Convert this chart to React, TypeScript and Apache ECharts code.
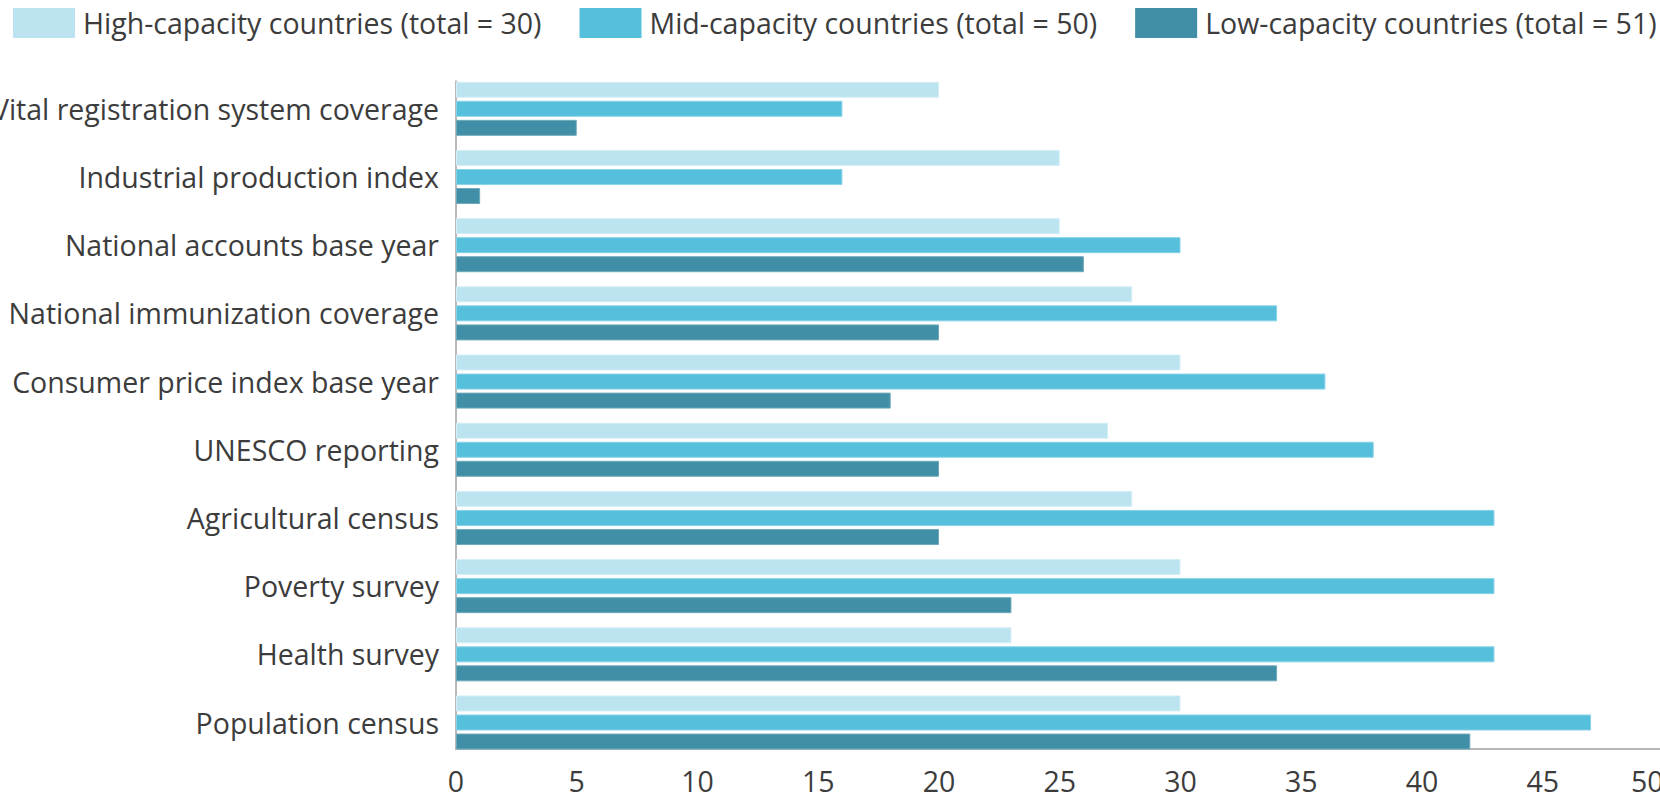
import React, { useEffect, useRef } from "react";
import * as echarts from "echarts";

const categories = [
  "Vital registration system coverage",
  "Industrial production index",
  "National accounts base year",
  "National immunization coverage",
  "Consumer price index base year",
  "UNESCO reporting",
  "Agricultural census",
  "Poverty survey",
  "Health survey",
  "Population census",
];
const seriesNames = [
  "High-capacity countries (total = 30)",
  "Mid-capacity countries (total = 50)",
  "Low-capacity countries (total = 51)",
];
const highValues = [20, 25, 25, 28, 30, 27, 28, 30, 23, 30];
const midValues = [16, 16, 30, 34, 36, 38, 43, 43, 43, 47];
const lowValues = [5, 1, 26, 20, 18, 20, 20, 23, 34, 42];
const colors = ["#BCE4F0", "#55BFDC", "#408FA6"];
const borders = ["#D4EEF6", "#86D2E7", "#6FAABB"];

const FONT = "'Open Sans', 'Noto Sans', sans-serif";
const TEXT = "#3c3c3c";
const AXIS = "#a0a0a0";
const FS = 28.5;

export default function App() {
  const ref = useRef<HTMLDivElement>(null);
  useEffect(() => {
    if (!ref.current) return;
    const chart = echarts.init(ref.current, undefined, { renderer: "svg" });
    const data = [highValues, midValues, lowValues];
    chart.setOption({
      animation: false,
      textStyle: { fontFamily: FONT, color: TEXT },
      legend: {
        left: 13,
        top: 8,
        padding: 0,
        itemWidth: 62,
        itemHeight: 30,
        itemGap: 38,
        icon: "rect",
        data: seriesNames,
        itemStyle: { borderWidth: 0 },
        textStyle: { fontSize: FS, color: TEXT, fontFamily: FONT, padding: [0, 0, 0, 3] },
      },
      grid: [
        { left: 456, right: -3.5, top: 74.7, bottom: 43.4, containLabel: false, outerBoundsMode: "none" },
        { left: 456, right: -3.5, top: 81, bottom: 51, containLabel: false, outerBoundsMode: "none" },
      ],
      xAxis: [
        { gridIndex: 0, type: "value", min: 0, max: 50, interval: 5, show: false },
        {
          gridIndex: 1,
          type: "value",
          min: 0,
          max: 50,
          interval: 5,
          axisLine: { show: true, onZero: false, lineStyle: { color: AXIS, width: 1.5 } },
          axisTick: { show: false },
          splitLine: { show: false },
          axisLabel: {
            fontSize: FS,
            lineHeight: 24,
            color: TEXT,
            fontFamily: FONT,
            margin: 20,
            alignMaxLabel: "right",
          },
        },
      ],
      yAxis: [
        {
          gridIndex: 0,
          type: "category",
          inverse: true,
          data: categories,
          axisLine: { show: false },
          axisTick: { show: false },
          axisLabel: { fontSize: FS, color: TEXT, fontFamily: FONT, margin: 17 },
        },
        {
          gridIndex: 1,
          type: "value",
          min: 0,
          max: 1,
          axisLine: { show: true, onZero: false, lineStyle: { color: AXIS, width: 1.5 } },
          axisTick: { show: false },
          axisLabel: { show: false },
          splitLine: { show: false },
        },
      ],
      series: seriesNames.map((name, i) => ({
        name,
        type: "bar",
        xAxisIndex: 0,
        yAxisIndex: 0,
        data: data[i],
        barWidth: 16,
        barGap: "19%",
        itemStyle: { color: colors[i], borderColor: borders[i], borderWidth: 1 },
      })),
    });
    return () => chart.dispose();
  }, []);
  return (
    <div
      ref={ref}
      style={{ position: "absolute", left: 0, top: 0, width: 1660, height: 800 }}
    />
  );
}
